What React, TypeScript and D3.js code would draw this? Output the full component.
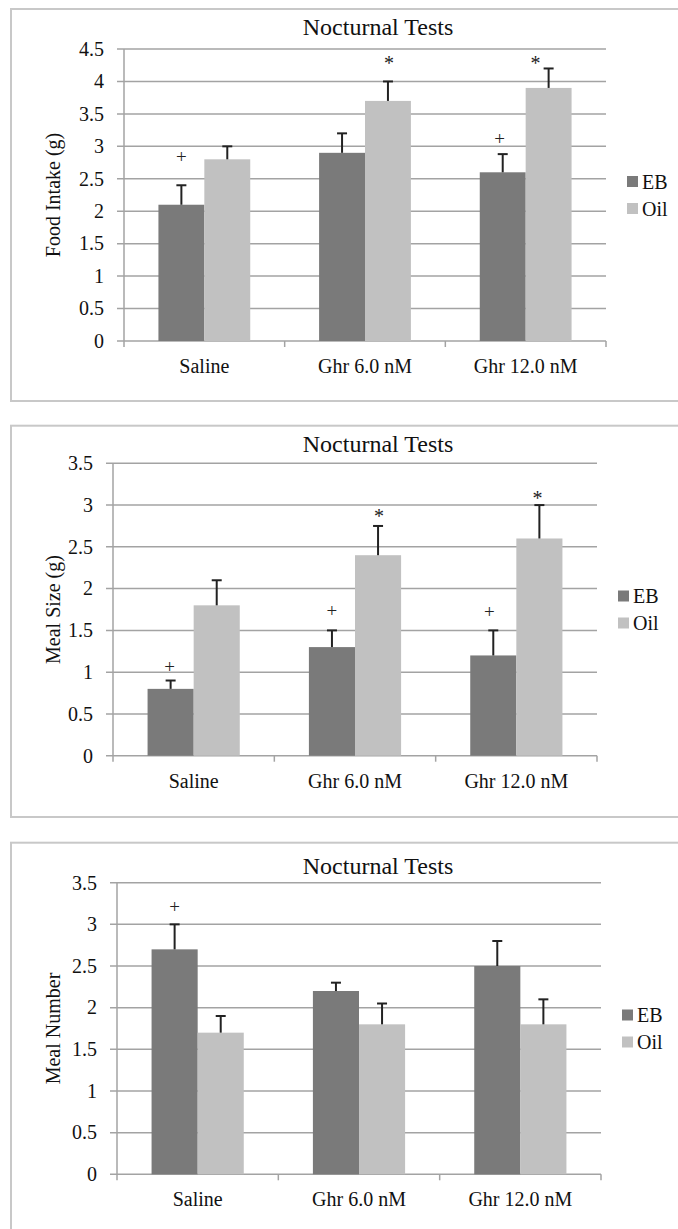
import React from 'react';
import * as d3 from 'd3';

// categories and series
const categories = ['Saline', 'Ghr 6.0 nM', 'Ghr 12.0 nM'];
const seriesNames = ['EB', 'Oil'];
const seriesColors = ['#7a7a7a', '#c1c1c1'];

// Food intake (g)
const foodEB = [2.1, 2.9, 2.6];
const foodOil = [2.8, 3.7, 3.9];
const foodEBErr = [0.3, 0.3, 0.28];
const foodOilErr = [0.2, 0.3, 0.3];
const foodTicks = [0, 0.5, 1, 1.5, 2, 2.5, 3, 3.5, 4, 4.5];

// Meal size (g)
const sizeEB = [0.8, 1.3, 1.2];
const sizeOil = [1.8, 2.4, 2.6];
const sizeEBErr = [0.1, 0.2, 0.3];
const sizeOilErr = [0.3, 0.35, 0.4];
const sizeTicks = [0, 0.5, 1, 1.5, 2, 2.5, 3, 3.5];

// Meal number
const numEB = [2.7, 2.2, 2.5];
const numOil = [1.7, 1.8, 1.8];
const numEBErr = [0.3, 0.1, 0.3];
const numOilErr = [0.2, 0.25, 0.3];
const numTicks = [0, 0.5, 1, 1.5, 2, 2.5, 3, 3.5];

// significance marks: [category index, series index, symbol, value where it sits, nudge]
type Mark = [number, number, string, number, number];
const foodMarks: Mark[] = [[0, 0, '+', 2.84, 0], [2, 0, '+', 3.13, -3], [1, 1, '*', 4.29, 1], [2, 1, '*', 4.29, -13]];
const sizeMarks: Mark[] = [[0, 0, '+', 1.07, -1], [1, 0, '+', 1.745, 0], [2, 0, '+', 1.73, -4], [1, 1, '*', 2.87, 1], [2, 1, '*', 3.09, -2]];
const numMarks: Mark[] = [[0, 0, '+', 3.22, 0]];

const FONT = "'Liberation Serif', 'DejaVu Serif', serif";
const txt = { fontFamily: FONT };

type PanelProps = {
  yLabel: string;
  values: number[][];
  errors: number[][];
  ticks: number[];
  marks: Mark[];
  frame: { top: number; bottom: number | null };
  plot: { l: number; r: number; t: number; b: number };
  titleY: number;
};

const Panel = ({ yLabel, values, errors, ticks, marks, frame, plot, titleY }: PanelProps) => {
  const y = d3.scaleLinear().domain([0, d3.max(ticks) as number]).range([plot.b, plot.t]);
  const x0 = d3.scaleBand().domain(categories).range([plot.l, plot.r]);
  // excel gap width 150%
  const barW = x0.bandwidth() / 3.5;
  const barX = (ci: number, si: number) =>
    (x0(categories[ci]) as number) + x0.bandwidth() / 2 - barW + si * barW;
  const midY = (plot.t + plot.b) / 2;
  const legX = plot.r + 21;

  return (
    <g>
      <rect
        x={11}
        y={frame.top}
        width={700}
        height={(frame.bottom ?? 1260) - frame.top}
        fill="#fff"
        stroke="#c8c8c8"
        strokeWidth={2}
      />
      <text x={378} y={titleY} textAnchor="middle" style={txt} fontSize={24} fill="#111">
        Nocturnal Tests
      </text>

      {/* grid */}
      {ticks.map(t => (
        <line key={t} x1={plot.l - 7} x2={plot.r} y1={y(t)} y2={y(t)} stroke="#a3a3a3" strokeWidth={1.5} />
      ))}
      {ticks.map(t => (
        <text
          key={'l' + t}
          x={plot.l - 20}
          y={y(t)}
          dy="0.34em"
          textAnchor="end"
          style={txt}
          fontSize={20}
          fill="#111"
        >
          {t}
        </text>
      ))}
      <line x1={plot.l} x2={plot.l} y1={plot.t} y2={plot.b + 6} stroke="#a3a3a3" strokeWidth={1.5} />
      {categories.map(c => (
        <line
          key={'t' + c}
          x1={(x0(c) as number) + x0.bandwidth()}
          x2={(x0(c) as number) + x0.bandwidth()}
          y1={plot.b}
          y2={plot.b + 6}
          stroke="#a3a3a3"
          strokeWidth={1.5}
        />
      ))}

      {/* bars */}
      {values.map((vals, si) =>
        vals.map((v, ci) => (
          <rect
            key={si + '-' + ci}
            x={barX(ci, si)}
            y={y(v)}
            width={barW}
            height={y(0) - y(v)}
            fill={seriesColors[si]}
          />
        ))
      )}

      {/* error bars */}
      {values.map((vals, si) =>
        vals.map((v, ci) => {
          const cx = barX(ci, si) + barW / 2;
          const top = y(v + errors[si][ci]);
          return (
            <g key={'e' + si + '-' + ci} stroke="#222" strokeWidth={2}>
              <line x1={cx} x2={cx} y1={y(v)} y2={top} />
              <line x1={cx - 5} x2={cx + 5} y1={top} y2={top} />
            </g>
          );
        })
      )}

      {/* significance marks */}
      {marks.map(([ci, si, sym, v, dx], i) => (
        <text
          key={'m' + i}
          x={barX(ci, si) + barW / 2 + dx}
          y={y(v)}
          dy="0.35em"
          textAnchor="middle"
          style={txt}
          fontSize={sym === '*' ? 20 : 19}
          fill="#222"
        >
          {sym}
        </text>
      ))}

      {/* category labels */}
      {categories.map(c => (
        <text
          key={'c' + c}
          x={(x0(c) as number) + x0.bandwidth() / 2}
          y={plot.b + 32}
          textAnchor="middle"
          style={txt}
          fontSize={20}
          fill="#111"
        >
          {c}
        </text>
      ))}

      <text
        transform={`translate(${53},${midY}) rotate(-90)`}
        dy="0.35em"
        textAnchor="middle"
        style={txt}
        fontSize={20}
        fill="#111"
      >
        {yLabel}
      </text>

      {/* legend */}
      {seriesNames.map((s, i) => (
        <g key={s} transform={`translate(${legX},${midY - 13.5 + i * 27})`}>
          <rect x={0} y={-5.5} width={11} height={11} fill={seriesColors[i]} />
          <text x={15} y={0} dy="0.35em" style={txt} fontSize={20} fill="#111">
            {s}
          </text>
        </g>
      ))}
    </g>
  );
};

export default function App() {
  return (
    <div style={{ position: 'absolute', left: 0, top: 0 }}>
      <svg width={678} height={1229} style={{ display: 'block', background: '#fff', fontFamily: FONT }}>
        <Panel
          yLabel="Food Intake (g)"
          values={[foodEB, foodOil]}
          errors={[foodEBErr, foodOilErr]}
          ticks={foodTicks}
          marks={foodMarks}
          frame={{ top: 9, bottom: 401 }}
          plot={{ l: 124, r: 606, t: 49, b: 341 }}
          titleY={34.5}
        />
        <Panel
          yLabel="Meal Size (g)"
          values={[sizeEB, sizeOil]}
          errors={[sizeEBErr, sizeOilErr]}
          ticks={sizeTicks}
          marks={sizeMarks}
          frame={{ top: 425.7, bottom: 817 }}
          plot={{ l: 113, r: 597, t: 463.3, b: 755.7 }}
          titleY={451.5}
        />
        <Panel
          yLabel="Meal Number"
          values={[numEB, numOil]}
          errors={[numEBErr, numOilErr]}
          ticks={numTicks}
          marks={numMarks}
          frame={{ top: 842.7, bottom: null }}
          plot={{ l: 117, r: 601, t: 882.7, b: 1174.3 }}
          titleY={874}
        />
      </svg>
    </div>
  );
}
